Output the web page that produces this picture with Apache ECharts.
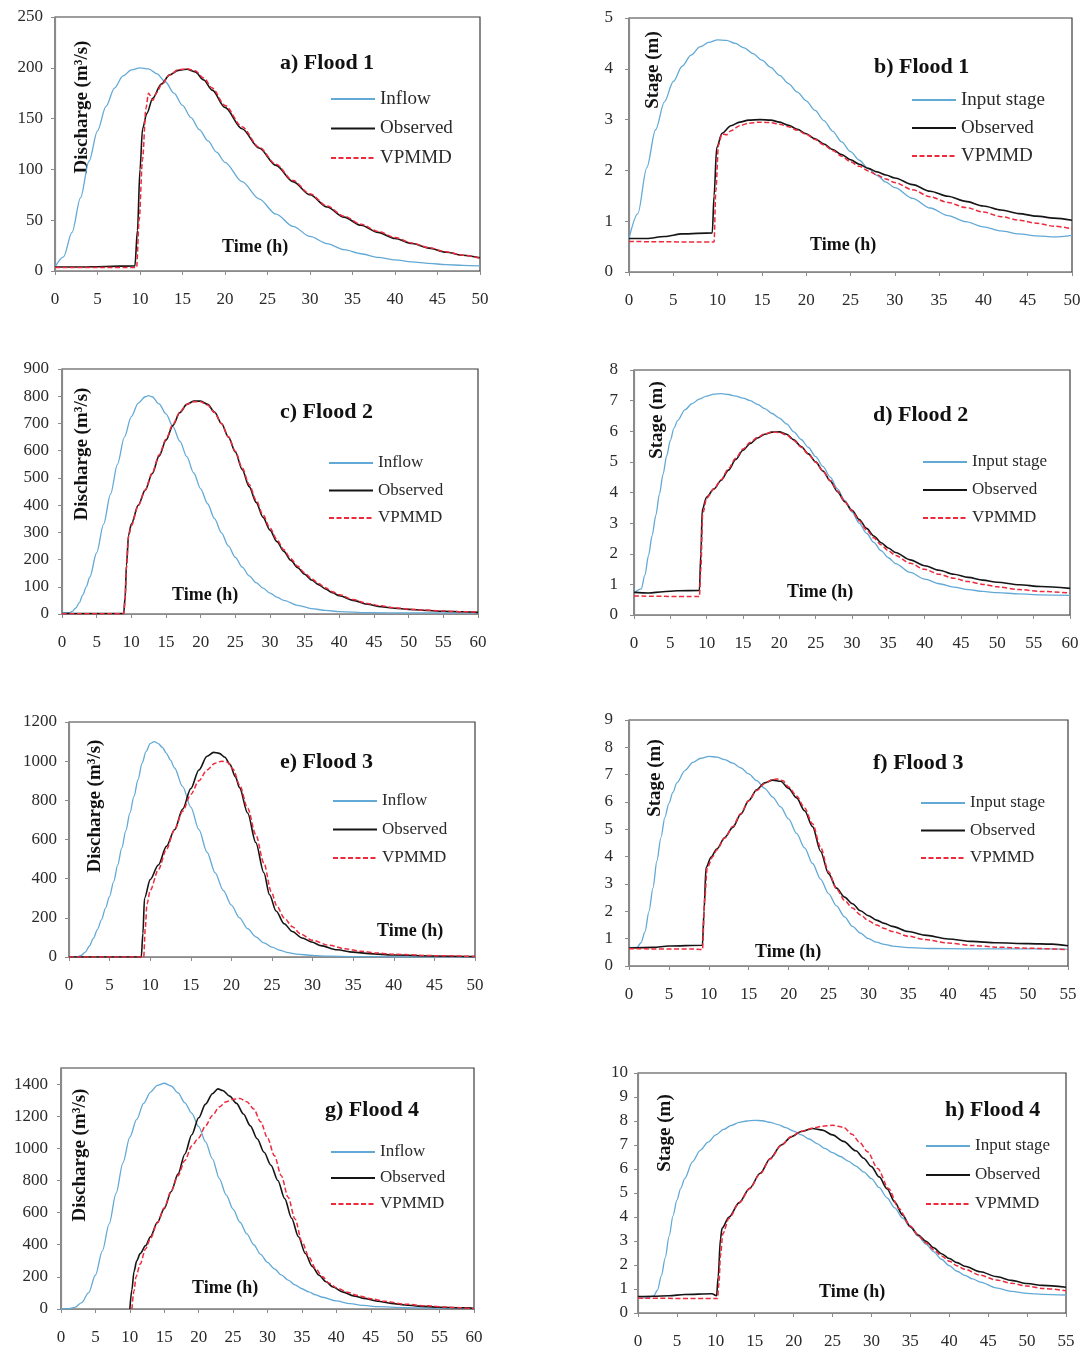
<!DOCTYPE html>
<html>
<head>
<meta charset="utf-8">
<script src="https://cdn.jsdelivr.net/npm/echarts@6/dist/echarts.min.js"></script>
<style>
  html, body { margin: 0; padding: 0; background: #ffffff; }
  #chart { width: 1089px; height: 1352px; }
</style>
</head>
<body>
<div id="chart"></div>
<script>
// ---------------- DATA (time h, value) ----------------
// Flood 1 – discharge (m3/s)
const f1Inflow = [[0,4],[1,14],[2,38],[3,72],[4,108],[5,138],[6,162],[7,180],[8,192],[9,198],[10,200],[11,199],[12,194],[13,186],[14,175],[15,163],[16,151],[17,139],[18,128],[19,117],[20,107],[22,88],[24,71],[26,56],[28,44],[30,34],[32,27],[34,21],[36,17],[38,13.5],[40,11],[42,9],[44,7.5],[46,6.3],[48,5.5],[50,5]];
const f1Observed = [[0,4],[3,4],[6,4.5],[9.4,5],[9.7,40],[10,100],[10.3,140],[10.8,155],[11.5,170],[12.5,184],[13.5,193],[14.5,197.5],[15.5,198.5],[16.5,196],[17.5,188],[18.5,178],[20,161],[22,140],[24,121],[26,104],[28,88],[30,75],[32,63],[34,53],[36,45],[38,38],[40,32],[42,27],[44,22.5],[46,18.5],[48,15.5],[50,13]];
const f1Vpmmd = [[0,3.5],[5,3.5],[9.6,3.5],[9.9,50],[10.3,110],[10.7,160],[11,175],[11.5,168],[12,176],[12.5,183],[13.5,193],[14.5,198],[15.5,199],[16.5,197],[17.5,190],[18.5,180],[20,163],[22,142],[24,122],[26,105],[28,89],[30,76],[32,64],[34,54],[36,46],[38,39],[40,33],[42,27.5],[44,23],[46,19],[48,15.5],[50,12.5]];
// Flood 1 – stage (m)
const f1InputStage = [[0,0.66],[1,1.15],[2,2.05],[3,2.8],[4,3.35],[5,3.75],[6,4.05],[7,4.27],[8,4.43],[9,4.52],[10,4.57],[11,4.56],[12,4.5],[13,4.41],[14,4.3],[15,4.17],[16,4.03],[17,3.87],[18,3.71],[19,3.54],[20,3.37],[21,3.18],[22,2.98],[23,2.77],[24,2.56],[25,2.37],[26,2.2],[27,2.04],[28,1.9],[29,1.77],[30,1.66],[32,1.45],[34,1.26],[36,1.11],[38,0.99],[40,0.89],[42,0.81],[44,0.75],[46,0.71],[48,0.69],[50,0.72]];
const f1ObsStage = [[0,0.66],[2,0.66],[4,0.7],[6,0.75],[9.4,0.77],[9.6,1.5],[9.9,2.45],[10.5,2.73],[11.5,2.88],[12.5,2.95],[13.5,2.99],[14.8,3.0],[16,2.99],[17,2.95],[18,2.89],[19,2.81],[20,2.72],[21,2.62],[22,2.52],[23,2.41],[24,2.31],[25,2.21],[26,2.12],[27,2.04],[28,1.97],[29,1.91],[30,1.85],[32,1.72],[34,1.59],[36,1.49],[38,1.39],[40,1.3],[42,1.22],[44,1.15],[46,1.1],[48,1.06],[50,1.02]];
const f1VpmmdStage = [[0,0.6],[9.6,0.59],[9.8,1.6],[10.1,2.5],[10.5,2.72],[11,2.7],[11.5,2.78],[12.5,2.88],[13.5,2.93],[14.8,2.95],[16,2.94],[17,2.91],[18,2.86],[19,2.79],[20,2.71],[21,2.61],[22,2.5],[23,2.39],[24,2.28],[25,2.17],[26,2.08],[27,1.99],[28,1.91],[29,1.83],[30,1.76],[32,1.62],[34,1.48],[36,1.37],[38,1.27],[40,1.18],[42,1.09],[44,1.02],[46,0.96],[48,0.9],[50,0.85]];
// Flood 2 – discharge
const f2Inflow = [[0,4],[1,5],[1.5,10],[2,22],[2.5,42],[3,70],[3.5,100],[4,135],[5,225],[6,330],[7,440],[8,550],[9,650],[10,725],[11,775],[12,798],[12.5,802],[13,798],[14,772],[15,735],[16,688],[17,635],[18,578],[19,518],[20,460],[21,405],[22,350],[23,298],[24,250],[25,208],[26,172],[27,140],[28,115],[29,95],[30,77],[31,62],[32,50],[34,32],[36,20],[38,13],[40,9],[44,5],[50,4],[60,4]];
const f2Observed = [[0,2],[8.9,2],[9.1,60],[9.3,180],[9.6,290],[10,330],[11,400],[12,455],[13,515],[14,580],[15,638],[16,693],[17,740],[18,770],[19,782],[20,782],[21,770],[22,742],[23,700],[24,650],[25,595],[26,530],[27,468],[28,410],[29,355],[30,308],[31,266],[32,230],[33,197],[34,170],[35,146],[36,125],[37,108],[38,92],[39,78],[40,67],[42,50],[44,36],[46,27],[48,21],[50,17],[52,14],[55,10],[58,8],[60,6]];
const f2Vpmmd = [[0,1],[8.9,1],[9.1,50],[9.3,170],[9.6,285],[10,325],[11,398],[12,455],[13,518],[14,584],[15,642],[16,697],[17,742],[18,770],[19,780],[20,780],[21,768],[22,740],[23,699],[24,651],[25,598],[26,536],[27,476],[28,418],[29,364],[30,316],[31,273],[32,236],[33,203],[34,175],[35,151],[36,130],[37,112],[38,96],[39,82],[40,71],[42,53],[44,39],[46,30],[48,23],[50,18],[52,15],[55,11],[58,8],[60,7]];
// Flood 2 – stage
const f2InputStage = [[0,0.72],[1,0.85],[1.5,1.3],[2,1.95],[2.5,2.6],[3,3.25],[3.5,3.95],[4,4.6],[4.5,5.2],[5,5.7],[5.5,6.1],[6,6.35],[7,6.7],[8,6.9],[9,7.05],[10,7.15],[11,7.21],[12,7.23],[13,7.2],[14,7.15],[15,7.08],[16,7.0],[17,6.88],[18,6.74],[19,6.58],[20,6.43],[21,6.24],[22,5.98],[23,5.73],[24,5.47],[25,5.17],[26,4.85],[27,4.5],[28,4.12],[29,3.74],[30,3.36],[31,3.0],[32,2.67],[33,2.37],[34,2.1],[35,1.87],[36,1.68],[38,1.39],[40,1.17],[42,1.02],[44,0.91],[46,0.83],[48,0.77],[50,0.73],[53,0.69],[56,0.66],[60,0.64]];
const f2ObsStage = [[0,0.74],[2,0.72],[4,0.76],[6,0.79],[9,0.8],[9.2,2.0],[9.4,3.45],[10,3.85],[11,4.12],[12,4.4],[13,4.73],[14,5.08],[15,5.38],[16,5.6],[17,5.78],[18,5.9],[19,5.97],[20,5.98],[21,5.9],[22,5.72],[23,5.5],[24,5.26],[25,5.0],[26,4.7],[27,4.38],[28,4.03],[29,3.7],[30,3.42],[31,3.12],[32,2.83],[33,2.58],[34,2.36],[35,2.19],[36,2.04],[38,1.8],[40,1.61],[42,1.46],[44,1.33],[46,1.23],[48,1.14],[50,1.07],[53,0.99],[56,0.93],[60,0.87]];
const f2VpmmdStage = [[0,0.62],[9,0.6],[9.2,1.5],[9.45,3.3],[10,3.82],[11,4.12],[12,4.42],[13,4.78],[14,5.12],[15,5.42],[16,5.64],[17,5.8],[18,5.92],[19,5.97],[20,5.96],[21,5.88],[22,5.7],[23,5.48],[24,5.25],[25,4.99],[26,4.7],[27,4.39],[28,4.05],[29,3.71],[30,3.4],[31,3.08],[32,2.78],[33,2.52],[34,2.29],[35,2.1],[36,1.94],[38,1.69],[40,1.49],[42,1.33],[44,1.2],[46,1.09],[48,1.0],[50,0.92],[53,0.83],[56,0.77],[60,0.72]];
// Flood 3 – discharge
const f3Inflow = [[0,0],[1,2],[1.5,8],[2,25],[2.5,55],[3,95],[3.5,140],[4,190],[4.5,250],[5,310],[5.5,385],[6,470],[6.5,557],[7,645],[7.5,735],[8,820],[8.5,905],[9,990],[9.5,1050],[10,1090],[10.5,1100],[11,1090],[11.5,1070],[12,1040],[12.5,1005],[13,965],[14,870],[15,765],[16,650],[17,535],[18,430],[19,340],[20,265],[21,200],[22,145],[23,103],[24,72],[25,50],[26,34],[27,22],[28,15],[30,8],[32,4],[35,2],[40,1],[50,0]];
const f3Observed = [[0,0],[8.9,0],[9.1,120],[9.3,300],[10,395],[11,470],[12,565],[13,650],[14,755],[15,860],[16,955],[17,1025],[17.8,1045],[18.5,1040],[19.2,1020],[19.8,985],[20.5,920],[21,865],[22,735],[23,585],[24,430],[24.7,318],[25.5,235],[26.5,170],[27.5,130],[28.7,97],[30,75],[31,58],[33,37],[35,25],[37,17],[40,10],[45,5],[50,2]];
const f3Vpmmd = [[0,0],[9.2,0],[9.4,150],[9.6,270],[10,340],[11,445],[12,550],[13,650],[14,745],[15,830],[16,900],[17,955],[18,990],[18.8,1000],[19.5,995],[20.2,960],[21,880],[22,760],[23,625],[24,480],[24.9,335],[25.6,260],[26.5,200],[27.5,155],[28.5,118],[30,85],[32,60],[34,42],[36,29],[38,20],[40,14],[45,7],[50,3]];
// Flood 3 – stage
const f3InputStage = [[0,0.67],[1,0.68],[1.5,0.85],[2,1.25],[2.5,2.0],[3,2.85],[3.5,3.85],[4,4.7],[4.5,5.45],[5,5.95],[5.5,6.35],[6,6.7],[7,7.15],[8,7.45],[9,7.6],[10,7.67],[11,7.64],[12,7.55],[13,7.42],[14,7.25],[15,7.03],[16,6.78],[17,6.5],[18,6.18],[19,5.82],[20,5.38],[21,4.85],[22,4.32],[23,3.75],[24,3.18],[25,2.65],[26,2.2],[27,1.8],[28,1.45],[29,1.2],[30,1.0],[31,0.87],[32,0.79],[33,0.73],[35,0.67],[38,0.64],[42,0.63],[48,0.63],[55,0.62]];
const f3ObsStage = [[0,0.66],[3,0.68],[5,0.73],[9.2,0.76],[9.4,2.0],[9.65,3.6],[10.3,3.99],[11,4.28],[12,4.7],[13,5.07],[14,5.55],[15,6.05],[16,6.45],[17,6.7],[18,6.8],[19,6.76],[20,6.5],[21,6.15],[22,5.68],[23,5.1],[24,4.2],[25,3.38],[26,2.85],[27,2.52],[28,2.28],[29,2.02],[30,1.84],[31,1.68],[32,1.56],[33,1.45],[35,1.26],[37,1.13],[40,0.99],[43,0.9],[46,0.85],[50,0.82],[53,0.8],[55,0.74]];
const f3VpmmdStage = [[0,0.63],[8,0.62],[9.2,0.6],[9.5,2.5],[9.8,3.6],[10.5,4.0],[11,4.25],[12,4.68],[13,5.1],[14,5.58],[15,6.05],[16,6.42],[17,6.68],[18,6.82],[18.6,6.84],[19.3,6.78],[20,6.55],[21,6.22],[22,5.78],[23,5.2],[24,4.35],[25,3.45],[26,2.82],[27,2.4],[28,2.12],[29,1.87],[30,1.66],[31,1.5],[32,1.37],[33,1.26],[35,1.09],[37,0.97],[40,0.84],[43,0.75],[46,0.69],[50,0.65],[55,0.6]];
// Flood 4 – discharge
const f4Inflow = [[0,0],[1,2],[2,10],[3,40],[4,100],[5,210],[6,360],[7,530],[8,720],[9,910],[10,1070],[11,1180],[12,1280],[13,1350],[14,1392],[15,1405],[16,1388],[17,1345],[18,1283],[19,1218],[20,1135],[21,1040],[22,935],[23,812],[24,710],[25,622],[26,540],[27,467],[28,400],[29,340],[30,290],[31,250],[32,212],[33,180],[34,150],[35,126],[36,106],[37,88],[38,73],[40,50],[42,33],[44,22],[46,15],[50,9],[55,6],[60,4]];
const f4Observed = [[10,0],[10.3,120],[10.6,232],[11,300],[11.5,345],[12.3,395],[13,450],[14,540],[15,625],[16,730],[17,840],[18,965],[19,1085],[20,1190],[21,1275],[22,1340],[22.8,1370],[23.5,1360],[24.5,1325],[25.5,1280],[26.5,1214],[27.5,1140],[28.5,1060],[29.5,976],[30.5,895],[31.5,800],[32.5,687],[33.5,565],[34.5,450],[35.5,345],[36.5,265],[37.5,210],[38.5,170],[39.5,137],[41,105],[42.5,82],[44,66],[46,48],[48,35],[50,25],[52,18],[55,11],[58,8],[59.3,8],[60,2]];
const f4Vpmmd = [[10.3,0],[10.6,110],[10.9,200],[11.5,280],[12.3,375],[13,440],[14,535],[15,630],[16,735],[17,830],[18,925],[19,1015],[20,1065],[21,1140],[22,1205],[23,1258],[24,1290],[25,1305],[26,1310],[27,1290],[28,1245],[29,1165],[30,1065],[31,955],[32,830],[33,695],[34,560],[35,420],[36,325],[37,250],[38,200],[39,160],[40,132],[41.6,105],[43,85],[45,64],[47,48],[50,30],[53,20],[56,12],[58,8],[60,2]];
// Flood 4 – stage
const f4InputStage = [[0,0.62],[1,0.63],[2,0.7],[2.5,0.95],[3,1.55],[3.5,2.3],[4,3.2],[4.5,4.05],[5,4.7],[5.5,5.2],[6,5.6],[7,6.3],[8,6.78],[9,7.12],[10,7.42],[11,7.65],[12,7.82],[13,7.94],[14,8.0],[15,8.03],[16,8.01],[17,7.94],[18,7.85],[19,7.72],[20,7.58],[21,7.42],[22,7.25],[23,7.06],[24,6.86],[25,6.68],[26,6.52],[27,6.33],[28,6.12],[29,5.88],[30,5.6],[31,5.22],[32,4.8],[33,4.38],[34,3.95],[35,3.58],[36,3.2],[37,2.87],[38,2.55],[39,2.24],[40,1.97],[41,1.74],[42,1.57],[43,1.42],[44,1.29],[46,1.05],[48,0.9],[50,0.82],[52,0.78],[55,0.75]];
const f4ObsStage = [[0,0.69],[2,0.7],[4,0.72],[6,0.77],[9.5,0.8],[10.1,0.72],[10.3,1.5],[10.6,3.1],[10.8,3.53],[11.7,4.0],[13,4.6],[14.35,5.2],[15.7,5.82],[17,6.44],[18.4,7.0],[19.7,7.34],[21,7.56],[22.4,7.69],[23.7,7.62],[25,7.42],[26.4,7.15],[28,6.76],[29,6.45],[30,6.1],[31,5.67],[32,5.18],[33,4.62],[34,4.08],[35,3.6],[36,3.25],[37,2.99],[38,2.72],[39,2.47],[40,2.27],[41,2.1],[42,1.95],[44,1.72],[46,1.52],[48,1.36],[50,1.23],[52,1.15],[55,1.07]];
const f4VpmmdStage = [[0,0.62],[10.2,0.6],[10.4,1.2],[10.6,2.4],[10.9,3.3],[11.7,3.95],[13,4.58],[14.35,5.18],[15.7,5.8],[17,6.42],[18.4,6.98],[19.7,7.35],[21,7.57],[22.4,7.7],[23.7,7.78],[25,7.82],[26.4,7.74],[27.5,7.45],[28.5,7.1],[29.5,6.72],[30.8,6.02],[32.2,5.19],[33.5,4.36],[35,3.62],[36,3.22],[37,2.93],[38,2.64],[39,2.38],[40,2.16],[41,1.97],[42,1.82],[44,1.57],[46,1.38],[48,1.24],[50,1.12],[52,1.02],[55,0.93]];

// ---------------- labels & axis ranges ----------------
const panelTitles = ['a) Flood 1','b) Flood 1','c) Flood 2','d) Flood 2','e) Flood 3','f) Flood 3','g) Flood 4','h) Flood 4'];
const dischargeName = 'Discharge (m³/s)';
const stageName = 'Stage (m)';
const timeName = 'Time (h)';
const xMaxes = [50, 50, 60, 60, 50, 55, 60, 55];
const yMaxes = [250, 5, 900, 8, 1200, 9, 1500, 10];
const yIntervals = [50, 1, 100, 1, 200, 1, 200, 1];
const xInterval = 5;
const seriesNamesQ = ['Inflow', 'Observed', 'VPMMD'];
const seriesNamesH = ['Input stage', 'Observed', 'VPMMD'];
const panelData = [
  [f1Inflow, f1Observed, f1Vpmmd],
  [f1InputStage, f1ObsStage, f1VpmmdStage],
  [f2Inflow, f2Observed, f2Vpmmd],
  [f2InputStage, f2ObsStage, f2VpmmdStage],
  [f3Inflow, f3Observed, f3Vpmmd],
  [f3InputStage, f3ObsStage, f3VpmmdStage],
  [f4Inflow, f4Observed, f4Vpmmd],
  [f4InputStage, f4ObsStage, f4VpmmdStage]
];

// ---------------- layout (pixels) ----------------
const layout = [
  { grid: [55, 17, 425, 254],  title: [280, 63],   yName: [82, 107],  time: [222, 247],  legend: [330, 89],   gap: 9.5,  lf: 19, yMargin: 12 },
  { grid: [629, 18, 443, 254], title: [874, 67],   yName: [653, 70],  time: [810, 245],  legend: [911, 90],   gap: 8,    lf: 19, yMargin: 16 },
  { grid: [62, 369, 416, 245], title: [280, 412],  yName: [82, 454],  time: [172, 595],  legend: [328, 454],  gap: 9.5,  lf: 17, yMargin: 13 },
  { grid: [634, 370, 436, 245],title: [873, 415],  yName: [657, 420], time: [787, 592],  legend: [922, 453],  gap: 10,   lf: 17, yMargin: 16 },
  { grid: [69, 722, 406, 235], title: [280, 762],  yName: [95, 806],  time: [377, 931],  legend: [332, 792],  gap: 10.5, lf: 17, yMargin: 12 },
  { grid: [629, 720, 439, 246],title: [873, 763],  yName: [655, 778], time: [755, 952],  legend: [920, 794],  gap: 9.5,  lf: 17, yMargin: 16 },
  { grid: [61, 1068, 413, 241],title: [325, 1110], yName: [80, 1155], time: [192, 1288], legend: [330, 1143], gap: 8,    lf: 17, yMargin: 13 },
  { grid: [638, 1073, 428, 240],title: [945, 1110],yName: [665, 1133],time: [819, 1292], legend: [925, 1137], gap: 11,   lf: 17, yMargin: 10 }
];

const FONT = '"Liberation Serif", "Times New Roman", serif';
const lineStyles = {
  'Inflow':      { color: '#62a9d6', width: 1.3, type: 'solid' },
  'Input stage': { color: '#62a9d6', width: 1.3, type: 'solid' },
  'Observed':    { color: '#151515', width: 1.6, type: 'solid' },
  'VPMMD':       { color: '#ee2b3d', width: 1.5, type: [5, 2.5] }
};

const grids = [], xAxes = [], yAxes = [], series = [], legends = [], graphics = [];
layout.forEach((L, i) => {
  const isStage = i % 2 === 1;
  const names = isStage ? seriesNamesH : seriesNamesQ;
  grids.push({ left: L.grid[0], top: L.grid[1], width: L.grid[2], height: L.grid[3],
    show: true, borderColor: '#3c3c3c', borderWidth: 1.2, backgroundColor: 'transparent' });
  xAxes.push({ type: 'value', gridIndex: i, min: 0, max: xMaxes[i], interval: xInterval,
    axisLine: { lineStyle: { color: '#8a8a8a', width: 1.2 } },
    axisTick: { show: true, length: 4, lineStyle: { color: '#8a8a8a' } },
    axisLabel: { fontFamily: FONT, fontSize: 17, color: '#2a2a2a', margin: 20,
      formatter: (v) => String(v) },
    splitLine: { show: false } });
  yAxes.push({ type: 'value', gridIndex: i, min: 0, max: yMaxes[i], interval: yIntervals[i],
    axisLine: { show: true, lineStyle: { color: '#8a8a8a', width: 1.2 } },
    axisTick: { show: true, length: 4, lineStyle: { color: '#8a8a8a' } },
    axisLabel: { fontFamily: FONT, fontSize: 17, color: '#2a2a2a', margin: L.yMargin,
      showMaxLabel: (yMaxes[i] % yIntervals[i] === 0), formatter: (v) => String(v) },
    splitLine: { show: false } });
  names.forEach((nm, k) => {
    const st = lineStyles[nm];
    series.push({ type: 'line', name: nm, xAxisIndex: i, yAxisIndex: i,
      data: panelData[i][k], symbol: 'none', showSymbol: false, smooth: 0.3, smoothMonotone: 'x',
      color: st.color, lineStyle: { color: st.color, width: st.width, type: st.type },
      z: 2 + k, animation: false });
  });
  legends.push({ data: names, orient: 'vertical', left: L.legend[0], top: L.legend[1],
    padding: 0, itemWidth: 44, itemHeight: 14, itemGap: L.gap, selectedMode: false,
    itemStyle: { opacity: 0, borderWidth: 0 },
    textStyle: { fontFamily: FONT, fontSize: L.lf, color: '#2a2a2a', lineHeight: L.lf + 1 } });
  graphics.push({ type: 'text', x: L.title[0], y: L.title[1],
    style: { text: panelTitles[i], fontFamily: FONT, fontSize: 22, fontWeight: 'bold', fill: '#111',
      textAlign: 'left', textVerticalAlign: 'middle' } });
  graphics.push({ type: 'text', x: L.time[0], y: L.time[1],
    style: { text: timeName, fontFamily: FONT, fontSize: 18, fontWeight: 'bold', fill: '#111',
      textAlign: 'left', textVerticalAlign: 'middle' } });
  graphics.push({ type: 'text', x: L.yName[0], y: L.yName[1], rotation: Math.PI / 2,
    style: { text: isStage ? stageName : dischargeName, fontFamily: FONT, fontSize: 19, fontWeight: 'bold', fill: '#111',
      textAlign: 'center', textVerticalAlign: 'middle' } });
});

const chart = echarts.init(document.getElementById('chart'), null, { renderer: 'canvas' });
chart.setOption({
  animation: false,
  backgroundColor: '#ffffff',
  grid: grids, xAxis: xAxes, yAxis: yAxes, series: series, legend: legends,
  graphic: { elements: graphics }
});
</script>
</body>
</html>
